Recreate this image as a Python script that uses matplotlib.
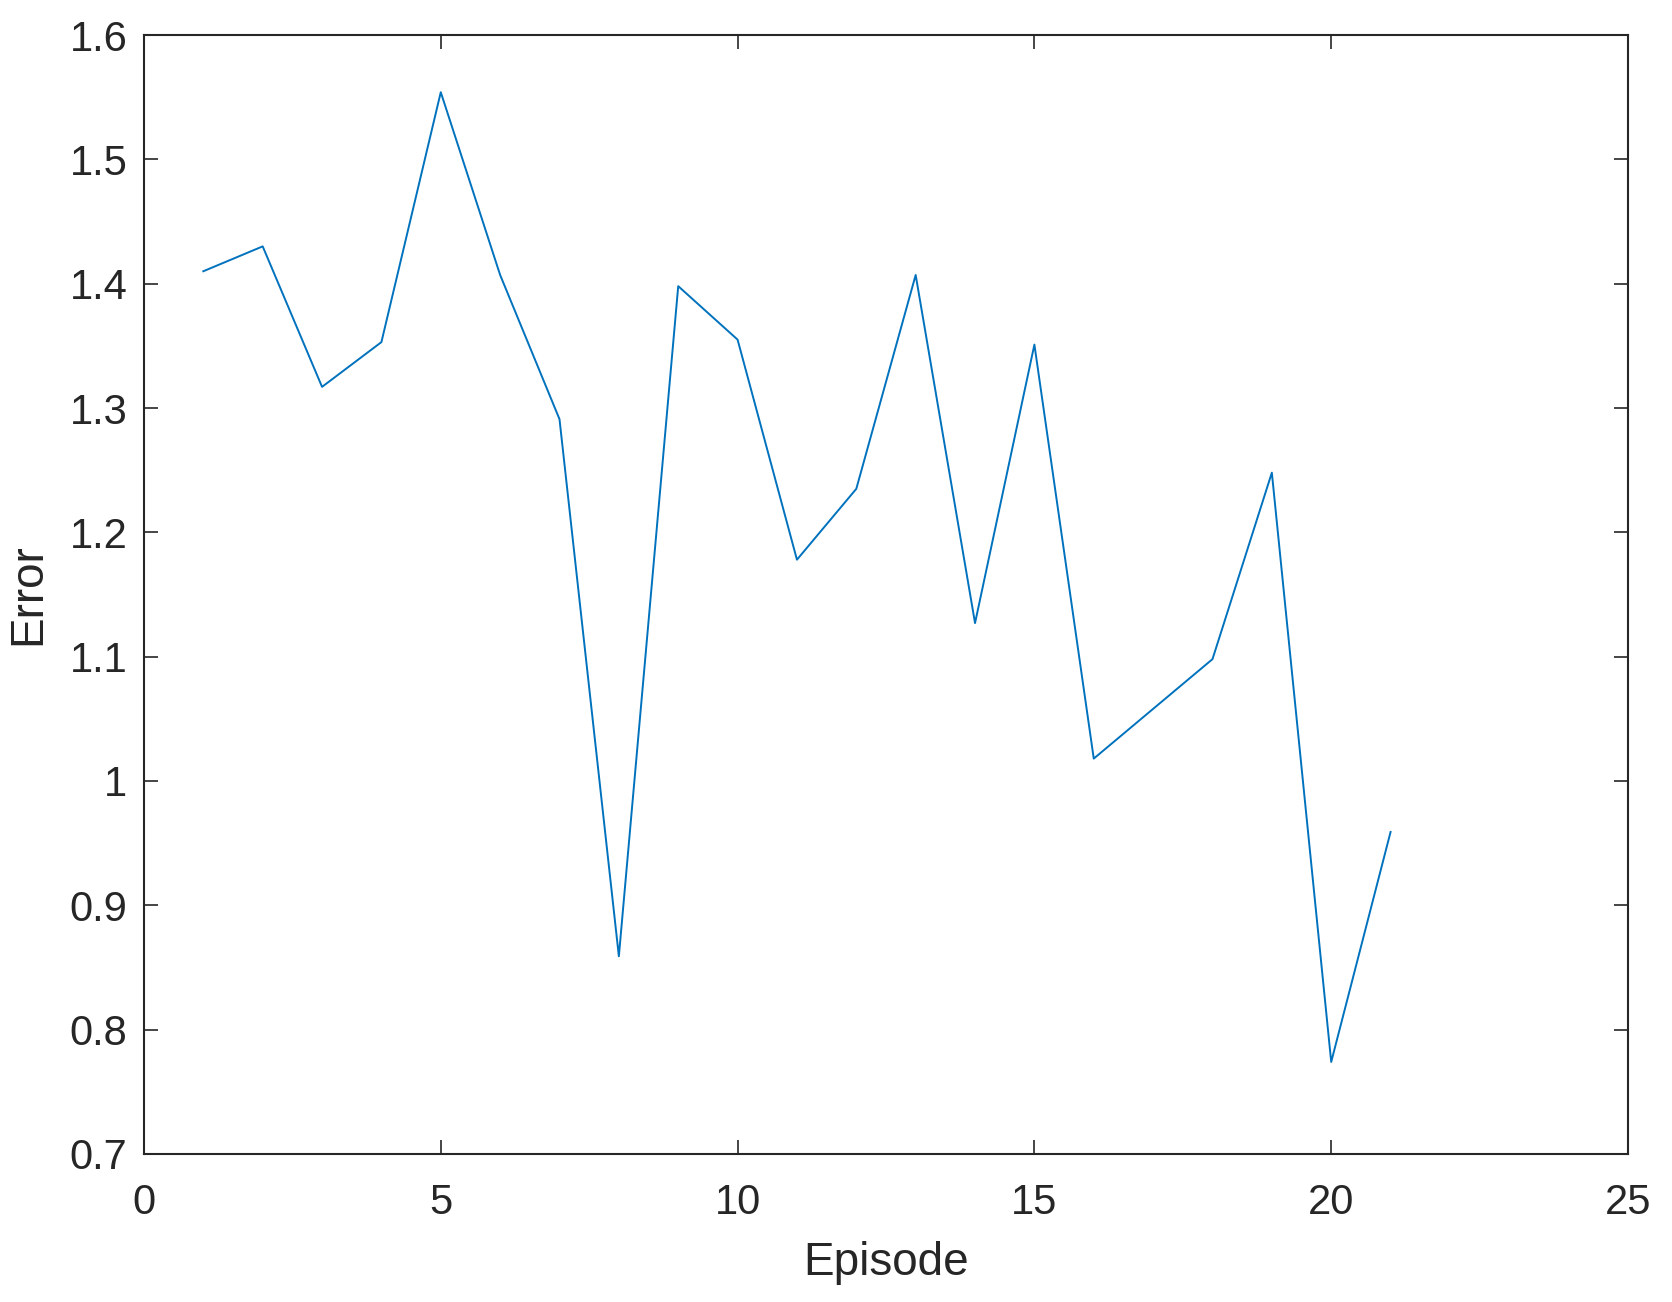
import numpy as np
import matplotlib.pyplot as plt

plt.rcParams['font.family'] = ['Liberation Sans', 'DejaVu Sans']

# Error per episode
episode = np.arange(1, 22)
error = [1.410, 1.430, 1.317, 1.353, 1.554, 1.407, 1.291, 0.859, 1.398, 1.355,
         1.178, 1.235, 1.407, 1.127, 1.351, 1.018, 1.058, 1.098, 1.248, 0.774, 0.959]

fig = plt.figure(figsize=(16.72, 13.02), dpi=100)
ax = fig.add_axes([0.0861, 0.1137, 0.8876, 0.8594])

ax.plot(episode, error, color='#0072BD', linewidth=1.4)

ax.set_xlim(0, 25)
ax.set_ylim(0.7, 1.6)
ax.set_xticks(np.arange(0, 26, 5))
ax.set_yticks(np.round(np.arange(0.7, 1.61, 0.1), 1))
ax.set_yticklabels(['0.7', '0.8', '0.9', '1', '1.1', '1.2', '1.3', '1.4', '1.5', '1.6'])

for s in ax.spines.values():
    s.set_linewidth(1.5)
    s.set_color('#262626')
ax.tick_params(direction='in', length=10, width=1.2, top=True, right=True,
               labelsize=30, labelcolor='#262626', color='#262626', pad=12)
ax.tick_params(axis='x', pad=21)

ax.set_xlabel('Episode', fontsize=33, color='#262626', labelpad=13)
ax.set_ylabel('Error', fontsize=33, color='#262626', labelpad=14)

fig.savefig('out.png', dpi=100)
